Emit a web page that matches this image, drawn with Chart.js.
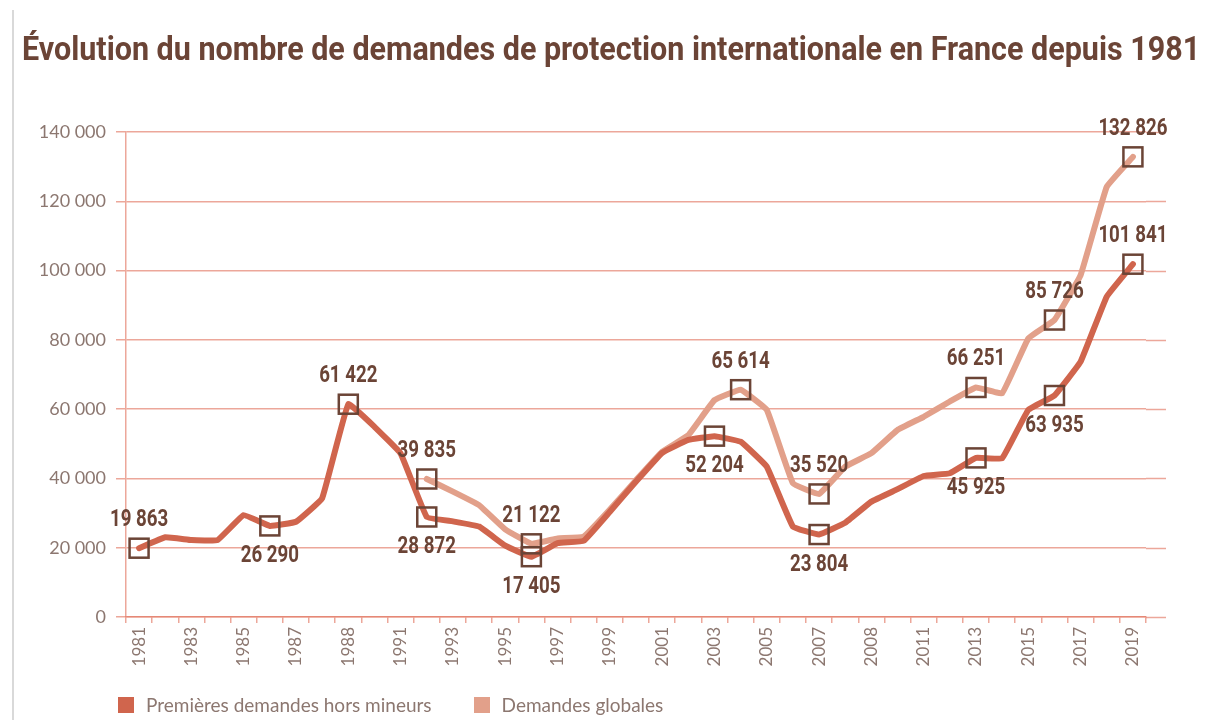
<!DOCTYPE html>
<html lang="fr">
<head>
<meta charset="UTF-8">
<title>Demandes de protection internationale</title>
<script src="https://cdn.jsdelivr.net/npm/chart.js"></script>
<style>
    html, body { margin: 0; padding: 0; background: #fff; }
    body { width: 1209px; height: 720px; position: relative; overflow: hidden; }
    .cadre { position: absolute; left: 12px; top: 10px; width: 2px; height: 710px; background: #d9d9d9; }
    h1 {
        position: absolute; left: 22px; top: 29px; margin: 0;
        font-family: Roboto, "DejaVu Sans", sans-serif;
        font-weight: bold; font-size: 33px; line-height: 40px; color: #6b4436; white-space: nowrap;
        transform-origin: 0 0;
    }
    .graf { position: absolute; left: 0; top: 0; width: 1209px; height: 720px; }
    .legende {
        position: absolute; left: 118px; top: 693px; display: flex; gap: 42px;
        font-family: Lato, "Open Sans", sans-serif; font-size: 19px; color: #8c7770;
    }
    .legende span { display: flex; align-items: center; }
    .legende i { display: inline-block; width: 16px; height: 16px; margin-right: 12px; }
</style>
</head>
<body>
<div class="cadre"></div>
<div class="graf"><canvas id="myChart"></canvas></div>
<h1 id="titre">Évolution du nombre de demandes de protection internationale en France depuis 1981</h1>
<div class="legende">
    <span><i style="background:#d0654d"></i>Premières demandes hors mineurs</span>
    <span><i style="background:#e2a08a"></i>Demandes globales</span>
</div>
<script>
    // années 1981 -> 2019
    const annees = ['1981', '1982', '1983', '1984', '1985', '1986', '1987', '1988', '1989', '1990',
        '1991', '1992', '1993', '1994', '1995', '1996', '1997', '1998', '1999', '2000',
        '2001', '2002', '2003', '2004', '2005', '2006', '2007', '2008', '2009', '2010',
        '2011', '2012', '2013', '2014', '2015', '2016', '2017', '2018', '2019'];

    // libellés affichés sous l'axe (un sur deux, tels qu'imprimés)
    const libellesAxe = ['1981', '1983', '1985', '1987', '1988', '1991', '1993', '1995', '1997', '1999',
        '2001', '2003', '2005', '2007', '2008', '2011', '2013', '2015', '2017', '2019'];

    const premieres = [19863, 23000, 22200, 22200, 29400, 26290, 27500, 34300, 61422, 54900,
        47200, 28872, 27600, 26100, 20600, 17405, 21300, 22000, 30400, 39100,
        47400, 51100, 52204, 50600, 43400, 26100, 23804, 27200, 33300, 36900,
        40700, 41500, 45925, 45800, 59800, 63935, 73700, 92500, 101841];

    const globales = [null, null, null, null, null, null, null, null, null, null,
        null, 39835, 36200, 32300, 25300, 21122, 22700, 23200, 31000, 39500,
        47700, 52500, 62600, 65614, 59800, 38600, 35520, 43400, 47300, 54000,
        57800, 62200, 66251, 64600, 80400, 85726, 98700, 124200, 132826];

    // points encadrés : [index, position du libellé]
    const marquesPremieres = [[0, 'haut'], [5, 'bas'], [8, 'haut'], [11, 'bas'], [15, 'bas'],
        [22, 'bas'], [26, 'bas'], [32, 'bas'], [35, 'bas'], [38, 'haut']];
    const marquesGlobales = [[11, 'haut'], [15, 'haut'], [23, 'haut'], [26, 'haut'],
        [32, 'haut'], [35, 'haut'], [38, 'haut']];

    const corGrade = 'rgba(226, 120, 100, 0.65)';
    const corTexto = '#8c7770';
    const marrom = '#6b4436';

    function formatar(n) {
        return String(n).replace(/\B(?=(\d{3})+(?!\d))/g, ' ');
    }

    // titre resserré pour tenir sur la largeur comme l'original
    const titre = document.getElementById('titre');
    titre.style.transform = 'scaleX(' + (1178 / titre.offsetWidth) + ')';

    // encadrés + valeurs au-dessus / au-dessous des points
    const pluginMarques = {
        id: 'marques',
        beforeDatasetsDraw(chart) {
            // prolonge les lignes horizontales vers la droite comme dans l'original
            const ctx = chart.ctx;
            const y = chart.scales.y;
            const area = chart.chartArea;
            ctx.save();
            ctx.strokeStyle = corGrade;
            ctx.lineWidth = 1.5;
            y.ticks.forEach(t => {
                const py = Math.round(y.getPixelForValue(t.value)) + 0.5;
                ctx.beginPath();
                ctx.moveTo(area.right, py);
                ctx.lineTo(area.right + 20, py);
                ctx.stroke();
            });
            ctx.restore();
        },
        afterDatasetsDraw(chart) {
            const ctx = chart.ctx;
            const listas = [[0, marquesPremieres], [1, marquesGlobales]];
            ctx.save();
            ctx.strokeStyle = marrom;
            ctx.lineWidth = 2.5;
            ctx.fillStyle = marrom;
            ctx.font = 'bold 24px Roboto, "DejaVu Sans", sans-serif';
            ctx.textAlign = 'center';
            ctx.textBaseline = 'middle';
            listas.forEach(([ds, marques]) => {
                const meta = chart.getDatasetMeta(ds);
                const valores = chart.data.datasets[ds].data;
                marques.forEach(([i, pos]) => {
                    const p = meta.data[i];
                    ctx.strokeRect(p.x - 9.5, p.y - 9.5, 19, 19);
                    const dy = pos === 'haut' ? -29 : 29;
                    // chiffres étroits
                    ctx.save();
                    ctx.translate(p.x, p.y + dy);
                    ctx.scale(0.78, 1);
                    ctx.fillText(formatar(valores[i]), 0, 1);
                    ctx.restore();
                });
            });
            ctx.restore();
        }
    };

    const ctx = document.getElementById('myChart');

    new Chart(ctx, {
        type: 'line',
        data: {
            labels: annees,
            datasets: [
                {
                    label: 'Premières demandes hors mineurs',
                    data: premieres,
                    borderColor: '#d0654d',
                    backgroundColor: '#d0654d',
                    borderWidth: 6,
                    pointRadius: 0,
                    tension: 0.08,
                    borderJoinStyle: 'round',
                    borderCapStyle: 'round'
                },
                {
                    label: 'Demandes globales',
                    data: globales,
                    borderColor: '#e2a08a',
                    backgroundColor: '#e2a08a',
                    borderWidth: 6,
                    pointRadius: 0,
                    tension: 0.08,
                    borderJoinStyle: 'round',
                    borderCapStyle: 'round'
                }
            ]
        },
        options: {
            responsive: true,
            maintainAspectRatio: false,
            animation: false,
            layout: { padding: { top: 132, right: 63, left: 0, bottom: 0 } },
            plugins: {
                legend: { display: false },
                title: { display: false },
                tooltip: { enabled: false }
            },
            scales: {
                x: {
                    offset: true,
                    grid: {
                        offset: true,
                        drawOnChartArea: false,
                        drawTicks: true,
                        tickLength: 6,
                        color: corGrade,
                        lineWidth: 1.5
                    },
                    border: { display: true, color: corGrade, width: 1.5 },
                    ticks: {
                        autoSkip: false,
                        minRotation: 90,
                        maxRotation: 90,
                        padding: 4,
                        color: corTexto,
                        font: { family: 'Lato, "Open Sans", sans-serif', size: 17 },
                        callback: function (val, i) {
                            return i % 2 === 0 ? libellesAxe[i / 2] : '';
                        }
                    },
                    afterFit: function (scale) { scale.height = 103; }
                },
                y: {
                    min: 0,
                    max: 140000,
                    grid: {
                        color: corGrade,
                        lineWidth: 1.5,
                        drawTicks: true,
                        tickLength: 10
                    },
                    border: { display: true, color: corGrade, width: 1.5 },
                    ticks: {
                        stepSize: 20000,
                        padding: 10,
                        color: corTexto,
                        font: { family: 'Lato, "Open Sans", sans-serif', size: 18 },
                        callback: function (v) { return formatar(v); }
                    },
                    afterFit: function (scale) { scale.width = 126; }
                }
            }
        },
        plugins: [pluginMarques]
    });
</script>
</body>
</html>
